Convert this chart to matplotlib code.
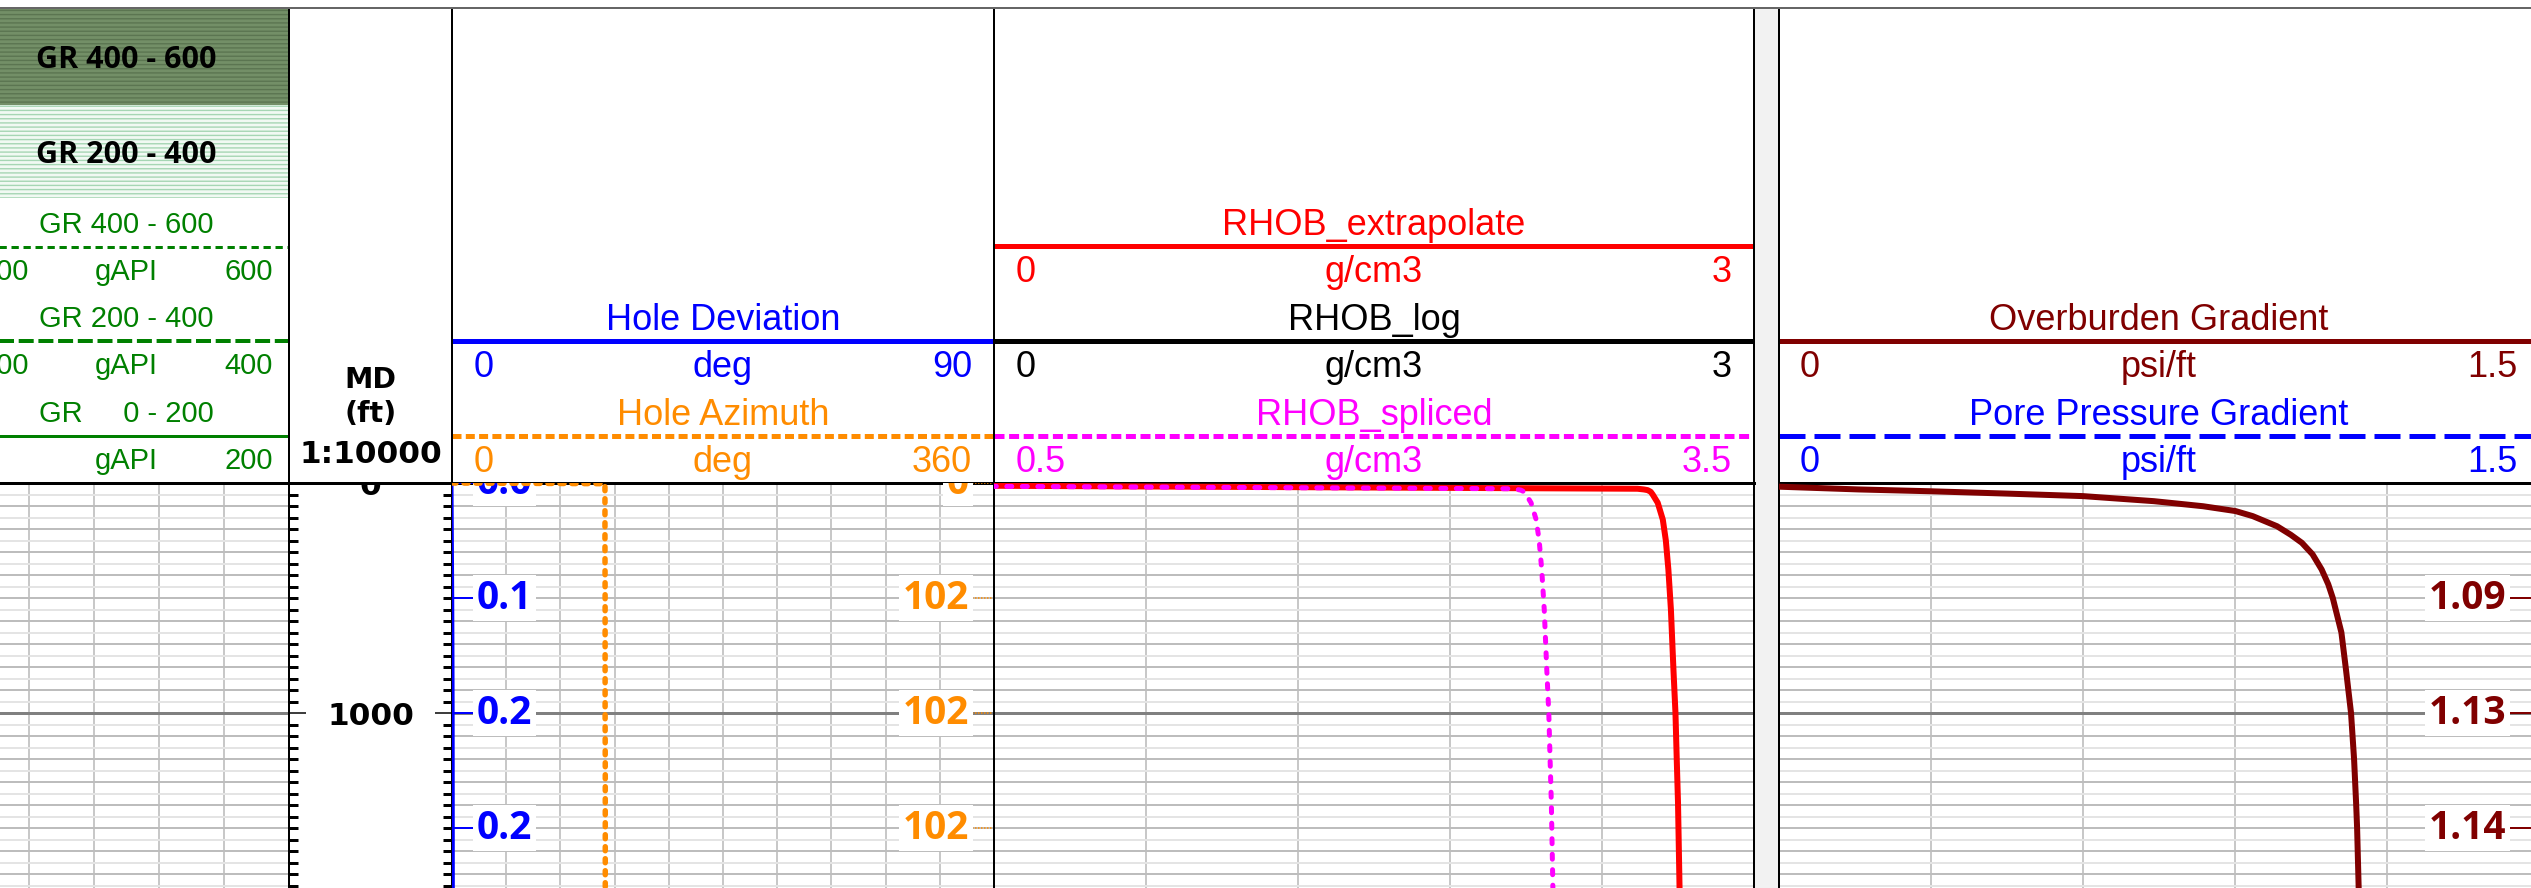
import numpy as np
import matplotlib
matplotlib.use("Agg")
import matplotlib.pyplot as plt
from matplotlib.patches import Rectangle
from matplotlib.lines import Line2D
from matplotlib.ticker import MultipleLocator
from matplotlib.transforms import blended_transform_factory

# ---------------------------------------------------------------- data
survey_depth = [0, 3, 250, 500, 750, 1000, 1250, 1500, 1800, 2100]
hole_deviation = [0.0, 0.0, 0.06, 0.12, 0.16, 0.19, 0.20, 0.21, 0.22, 0.22]
hole_azimuth = [0.0, 101.6, 101.6, 101.7, 101.7, 101.7, 101.8, 101.8, 101.8, 101.8]

rhob_depth = [12, 25, 28, 31, 38, 50, 86, 159, 250, 376, 550, 811, 1000, 1200, 1389,
              1754, 2100]
rhob_extrapolate = [0.0, 2.54, 2.565, 2.58, 2.592, 2.60, 2.62, 2.64, 2.652, 2.662,
                    2.672, 2.682, 2.69, 2.695, 2.70, 2.706, 2.71]
rhob_spliced = [0.0, 2.54, 2.565, 2.58, 2.592, 2.60, 2.62, 2.64, 2.652, 2.662,
                2.672, 2.682, 2.69, 2.695, 2.70, 2.706, 2.71]

obg_depth = [16, 28, 36, 46, 57, 79, 101, 122, 144, 188, 225, 260, 310, 376, 440, 500,
             650, 811, 1000, 1200, 1390, 1500, 1753, 2100]
overburden_gradient = [0.0, 0.157, 0.30, 0.449, 0.60, 0.74, 0.837, 0.901, 0.935, 0.983,
                       1.01, 1.032, 1.053, 1.071, 1.084, 1.093, 1.110, 1.119, 1.129,
                       1.135, 1.139, 1.141, 1.144, 1.147]

survey_label_depths = [0, 500, 1000, 1500]
obg_label_depths = [500, 1000, 1500]
md_label_depths = [0, 1000]

# header entries: (name, unit, left value, right value)
gr_entries = [("GR 400 - 600", "gAPI", "400", "600"),
              ("GR 200 - 400", "gAPI", "200", "400"),
              ("GR     0 - 200", "gAPI", "0", "200")]
survey_entries = [("Hole Deviation", "deg", "0", "90"),
                  ("Hole Azimuth", "deg", "0", "360")]
rhob_entries = [("RHOB_extrapolate", "g/cm3", "0", "3"),
                ("RHOB_log", "g/cm3", "0", "3"),
                ("RHOB_spliced", "g/cm3", "0.5", "3.5")]
gradient_entries = [("Overburden Gradient", "psi/ft", "0", "1.5"),
                    ("Pore Pressure Gradient", "psi/ft", "0", "1.5")]
gr_fill_labels = ["GR 400 - 600", "GR 200 - 400"]

# ---------------------------------------------------------------- layout
W, H, DPI = 2531, 888, 100
Y_TOP, Y_HDR, Y_END = 8, 483, 950
PX_PER_FT = 0.23
DEPTH_END = (Y_END - Y_HDR) / PX_PER_FT

T_GR = (-36, 289)
T_MD = (289, 452)
T_DEV = (452, 994)
T_RHOB = (994, 1754)
T_GRAD = (1779, 2539)

plt.rcParams["lines.scale_dashes"] = False
plt.rcParams["hatch.linewidth"] = 1.0


def px(v):
    return v * 72.0 / DPI


fig = plt.figure(figsize=(W / DPI, H / DPI), dpi=DPI)
fig.patch.set_facecolor("white")


def add_ax(x0, x1, y0, y1):
    return fig.add_axes([x0 / W, 1 - y1 / H, (x1 - x0) / W, (y1 - y0) / H])


def header_axes(track):
    x0, x1 = track
    ax = add_ax(x0, x1, Y_TOP, Y_HDR)
    ax.set_xlim(x0, x1)
    ax.set_ylim(Y_HDR, Y_TOP)
    ax.set_xticks([])
    ax.set_yticks([])
    for s in ax.spines.values():
        s.set_linewidth(px(2))
        s.set_color("black")
    ax.spines["top"].set_color("#555555")
    ax.spines["bottom"].set_linewidth(px(3))
    return ax


def header_entry(ax, track, y_line, entry, color, dashes, lw, fs, pad,
                 name_dy=11, scale_dy=36):
    x0, x1 = track
    name, unit, lo, hi = entry
    kw = dict(color=color, lw=px(lw), solid_capstyle="butt", dash_capstyle="butt")
    if dashes:
        ax.plot([x0, x1], [y_line, y_line], dashes=[px(d) for d in dashes], **kw)
    else:
        ax.plot([x0, x1], [y_line, y_line], **kw)
    tkw = dict(color=color, fontsize=fs, family="Liberation Sans", va="baseline")
    xc = (x0 + x1) / 2
    ax.text(xc, y_line - name_dy, name, ha="center", **tkw)
    ax.text(x0 + pad, y_line + scale_dy, lo, ha="left", **tkw)
    ax.text(xc, y_line + scale_dy, unit, ha="center", **tkw)
    ax.text(x1 - pad, y_line + scale_dy, hi, ha="right", **tkw)


def data_axes(track, xlim, ndiv):
    x0, x1 = track
    ax = add_ax(x0, x1, Y_HDR, Y_END)
    ax.set_xlim(*xlim)
    ax.set_ylim(DEPTH_END, 0)
    ax.xaxis.set_major_locator(MultipleLocator((xlim[1] - xlim[0]) / ndiv))
    ax.yaxis.set_major_locator(MultipleLocator(100))
    ax.yaxis.set_minor_locator(MultipleLocator(50))
    ax.set_axisbelow(True)
    ax.grid(which="major", axis="x", color="#c8c8c8", lw=px(2))
    ax.grid(which="major", axis="y", color="#bdbdbd", lw=px(2))
    ax.grid(which="minor", axis="y", color="#e4e4e4", lw=px(2))
    for d in np.arange(1000, DEPTH_END, 1000):
        ax.axhline(d, color="#808080", lw=px(3), zorder=0.8)
    ax.tick_params(which="both", length=0, labelbottom=False, labelleft=False)
    for s in ax.spines.values():
        s.set_linewidth(px(2))
    ax.spines["top"].set_linewidth(px(3))
    return ax


HDR_FS = 26
GR_FS = 21
LBL_FS = 28
BOX = dict(boxstyle="square,pad=0.1", fc="white", ec="none")

# background strip between the density and gradient tracks
fig.add_artist(Rectangle(((T_RHOB[1]) / W, 0), (T_GRAD[0] - T_RHOB[1]) / W,
                         1 - Y_TOP / H, transform=fig.transFigure,
                         fc="#f2f2f2", ec="none", zorder=-1))
fig.add_artist(Line2D([0, 1], [1 - Y_TOP / H] * 2, transform=fig.transFigure,
                      color="#666666", lw=px(2), zorder=5))

# ---------------------------------------------------------------- GR track
hgr = header_axes(T_GR)
hgr.add_patch(Rectangle((T_GR[0], Y_TOP), T_GR[1] - T_GR[0], 105 - Y_TOP,
                        fc="#738f67", ec="#5b7551", hatch="----", lw=0))
hgr.add_patch(Rectangle((T_GR[0], 105), T_GR[1] - T_GR[0], 198 - 105,
                        fc="#f1f9f3", ec="#a6d6b4", hatch="----", lw=0))
gr_mid = (T_GR[0] + T_GR[1]) / 2
for lbl, yb in zip(gr_fill_labels, [68, 163]):
    hgr.text(gr_mid, yb, lbl, ha="center", va="baseline", fontsize=22,
             fontweight="bold", family="Open Sans", color="black")
gr_styles = [((7.3, 4.7), 3), ((15, 4.7), 4), (None, 3)]
for entry, y_line, (dsh, lw) in zip(gr_entries, [247, 341, 436], gr_styles):
    header_entry(hgr, T_GR, y_line, entry, "#008000", dsh, lw, GR_FS, 16,
                 name_dy=14, scale_dy=33)
dgr = data_axes(T_GR, (0, 200), 5)

# ---------------------------------------------------------------- MD track
hmd = header_axes(T_MD)
md_mid = (T_MD[0] + T_MD[1]) / 2
for txt, yb, fs in [("MD", 388, 20.5), ("(ft)", 422, 20.5), ("1:10000", 463, 22.5)]:
    hmd.text(md_mid, yb, txt, ha="center", va="baseline", fontsize=fs,
             fontweight="bold", family="DejaVu Sans")
dmd = add_ax(T_MD[0], T_MD[1], Y_HDR, Y_END)
dmd.set_xlim(0, 1)
dmd.set_ylim(DEPTH_END, 0)
dmd.set_xticks([])
dmd.yaxis.set_major_locator(MultipleLocator(1000))
dmd.yaxis.set_minor_locator(MultipleLocator(50))
dmd.tick_params(axis="y", which="minor", direction="in", length=px(9), width=px(3),
                left=True, right=True)
dmd.tick_params(axis="y", which="major", direction="in", length=px(17), width=px(1.5),
                left=True, right=True, labelleft=False)
for s in dmd.spines.values():
    s.set_linewidth(px(2))
dmd.spines["top"].set_linewidth(px(3))
bmd = blended_transform_factory(dmd.transAxes, dmd.transData)
for d in md_label_depths:
    dmd.text(0.5, d, f"{d:d}", transform=bmd, ha="center", va="center_baseline",
             fontsize=22.5, fontweight="bold", family="DejaVu Sans", clip_on=True)

# ---------------------------------------------------------------- survey track
hdv = header_axes(T_DEV)
header_entry(hdv, T_DEV, 341, survey_entries[0], "blue", None, 5, HDR_FS, 22)
header_entry(hdv, T_DEV, 436, survey_entries[1], "#ff8c00", (9, 4.3), 5, HDR_FS, 22)
ddv = data_axes(T_DEV, (0, 90), 10)
ddv.plot(hole_deviation, survey_depth, color="blue", lw=px(3), zorder=3)
daz = ddv.twiny()
daz.set_xlim(0, 360)
daz.set_xticks([])
for s in daz.spines.values():
    s.set_visible(False)
daz.plot(hole_azimuth, survey_depth, color="#ff8c00", lw=px(5.5),
         dashes=[px(4), px(8)], dash_capstyle="round", zorder=3)
bdv = blended_transform_factory(ddv.transAxes, ddv.transData)
baz = blended_transform_factory(daz.transAxes, daz.transData)
for d in survey_label_depths:
    dev = np.interp(d, survey_depth, hole_deviation)
    azi = np.interp(d, survey_depth, hole_azimuth)
    ddv.plot([0.006, 0.046], [d, d], transform=bdv, color="blue", lw=px(2), zorder=4)
    ddv.text(0.046, d, f"{dev:.1f}", transform=bdv, ha="left", va="center",
             color="blue", fontsize=LBL_FS, fontweight="bold", family="Open Sans",
             bbox=BOX, zorder=5, clip_on=True)
    daz.plot([0.954, 1.0], [d, d], transform=baz, color="#ff8c00", lw=px(1.5),
             dashes=[px(1.5), px(1.5)], zorder=4)
    daz.text(0.954, d, f"{azi:.0f}", transform=baz, ha="right", va="center",
             color="#ff8c00", fontsize=LBL_FS, fontweight="bold", family="Open Sans",
             bbox=BOX, zorder=5, clip_on=True)

# ---------------------------------------------------------------- density track
hrh = header_axes(T_RHOB)
header_entry(hrh, T_RHOB, 246, rhob_entries[0], "red", None, 5, HDR_FS, 22)
header_entry(hrh, T_RHOB, 341, rhob_entries[1], "black", None, 5, HDR_FS, 22)
header_entry(hrh, T_RHOB, 436, rhob_entries[2], "magenta", (10, 4.6), 5, HDR_FS, 22)
drh = data_axes(T_RHOB, (0, 3), 5)
drh.plot(rhob_extrapolate, rhob_depth, color="red", lw=px(6), zorder=3,
         solid_joinstyle="round")
dsp = drh.twiny()
dsp.set_xlim(0.5, 3.5)
dsp.set_xticks([])
for s in dsp.spines.values():
    s.set_visible(False)
dsp.plot(rhob_spliced, rhob_depth, color="magenta", lw=px(5),
         dashes=[px(5), px(10.5)], dash_capstyle="round", zorder=3)

# ---------------------------------------------------------------- gradient track
hgd = header_axes(T_GRAD)
header_entry(hgd, T_GRAD, 341, gradient_entries[0], "#800000", None, 5, HDR_FS, 21)
header_entry(hgd, T_GRAD, 436, gradient_entries[1], "blue", (26, 9), 5, HDR_FS, 21)
dgd = data_axes(T_GRAD, (0, 1.5), 5)
dgd.plot(overburden_gradient, obg_depth, color="#800000", lw=px(6), zorder=3,
         solid_joinstyle="round", solid_capstyle="round")
bgd = blended_transform_factory(dgd.transAxes, dgd.transData)
for d in obg_label_depths:
    val = np.interp(d, obg_depth, overburden_gradient)
    dgd.plot([0.957, 1.0], [d, d], transform=bgd, color="#800000", lw=px(2), zorder=4)
    dgd.text(0.957, d, f"{val:.2f}", transform=bgd, ha="right", va="center",
             color="#800000", fontsize=LBL_FS, fontweight="bold", family="Open Sans",
             bbox=BOX, zorder=5, clip_on=True)

fig.savefig("out.png", dpi=DPI)
